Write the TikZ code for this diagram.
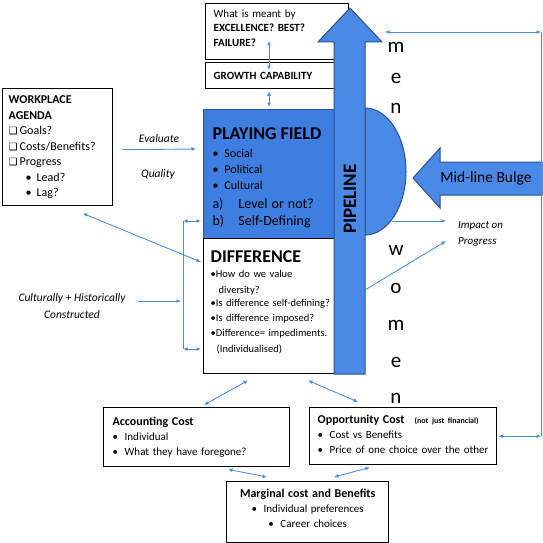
\documentclass[tikz,border=0pt]{standalone}
\usepackage{fontspec}
\setmainfont{Carlito}
\newfontfamily\symfont{DejaVu Sans}
\usetikzlibrary{arrows.meta}
\definecolor{fieldblue}{HTML}{3D7EE0}
\definecolor{pipeblue}{HTML}{4A89E5}
\definecolor{navy}{HTML}{2B5193}
\definecolor{linkblue}{HTML}{4A90E2}
\newcommand{\chk}{{\symfont\fontsize{10}{10}\selectfont ❑}\hspace{2pt}}
\newcommand{\bul}[1][12pt]{\makebox[#1][l]{\textbullet}}
\newcommand{\lift}[1]{\rule[-#1]{0pt}{0pt}}
\tikzset{
  box/.style={draw=black,line width=1.4pt,fill=white,anchor=north west,align=left,inner ysep=0pt},
  fieldbox/.style={box,draw=navy,line width=1pt,fill=fieldblue},
  blueshape/.style={draw=navy,line width=1pt,fill=pipeblue},
  link/.style={{Latex[length=4.5pt,width=4pt]}-{Latex[length=4.5pt,width=4pt]},draw=linkblue,line width=.9pt},
  push/.style={-{Latex[length=4.5pt,width=4pt]},draw=linkblue,line width=.9pt},
  wire/.style={draw=linkblue,line width=.9pt},
  note/.style={font=\fontsize{11.5}{17}\selectfont\itshape,align=center,inner sep=0pt},
  letter/.style={font=\fontsize{21}{21}\selectfont,inner sep=0pt}
}
\begin{document}
\begin{tikzpicture}[x=1pt,y=-1pt]
\useasboundingbox (0,0) rectangle (543,543);

% blue pipeline with its bulge and the incoming arrow
\draw[blueshape] (365,108) arc[start angle=-90,end angle=90,x radius=41,y radius=63.5] -- cycle;

\node[box,minimum width=143pt,minimum height=56pt,inner xsep=8pt,text width=127pt,font=\fontsize{11}{14.5}\selectfont] (excel) at (205,3) {What is meant by\\\textbf{EXCELLENCE? BEST?}\\\textbf{FAILURE?}\lift{8pt}};
\node[box,minimum width=140pt,minimum height=26pt,inner xsep=8pt,text width=124pt,font=\fontsize{11}{14}\selectfont\bfseries] (growth) at (205,62) {GROWTH CAPABILITY};

\node[fieldbox,minimum width=131pt,minimum height=129pt,inner xsep=9pt,text width=113pt,font=\fontsize{12}{16}\selectfont] (field) at (203,109) {\rule{0pt}{19pt}{\fontsize{18}{18}\selectfont\bfseries PLAYING FIELD}\\[2pt]
\bul Social\\\bul Political\\\bul Cultural\\[2.5pt]
{\fontsize{14}{16}\selectfont\makebox[26pt][l]{a)}Level or not?}\\[1pt]
{\fontsize{14}{16}\selectfont\makebox[26pt][l]{b)}Self-Defining}};

\node[box,minimum width=131pt,minimum height=135pt,inner xsep=7pt,text width=117pt,font=\fontsize{10.5}{15}\selectfont] (diff) at (203,238) {{\fontsize{18}{18}\selectfont\bfseries DIFFERENCE}\\
\textbullet How do we value\\[1pt]\hspace*{8pt}diversity?\\[-2pt]\mbox{\textbullet Is difference self-defining?}\\\textbullet Is difference imposed?\\\mbox{\textbullet Difference= impediments.}\\[1pt]\hspace*{6pt}(Individualised)\lift{10pt}};

\draw[blueshape] (334,374) -- (334,42) -- (318,42) -- (350,8) -- (382,42) -- (365,42) -- (365,374) -- cycle;
\node[rotate=90,font=\fontsize{19}{19}\selectfont\bfseries,inner sep=0pt] (pipe) at (350,199) {PIPELINE};

\draw[blueshape] (413,178) -- (440,148) -- (440,162) -- (542,162) -- (542,195) -- (440,195) -- (440,208) -- cycle;
\node[font=\fontsize{15.5}{15.5}\selectfont,inner sep=0pt] (bulge) at (486,178) {Mid-line Bulge};

% men / women down the right side of the pipeline
\foreach \ch/\yy [count=\i] in {m/47,e/78,n/108,w/250,o/288,m/325,e/362,n/398}
  \node[letter] (ltr\i) at (396,\yy) {\ch};

\node[box,minimum width=110pt,minimum height=117pt,inner xsep=6pt,text width=98pt,font=\fontsize{12}{15.5}\selectfont] (agenda) at (2,88) {\textbf{WORKPLACE}\\\textbf{AGENDA}\\\chk Goals?\\\chk Costs/Benefits?\\\chk Progress\\\hspace*{17pt}\bul[11pt]Lead?\\\hspace*{17pt}\bul[11pt]Lag?};

\node[box,minimum width=186pt,minimum height=59pt,inner xsep=9pt,text width=168pt,font=\fontsize{11}{15}\selectfont] (acct) at (103,407) {{\fontsize{12}{15}\selectfont\bfseries Accounting Cost}\\\bul Individual\\\bul What they have foregone?};
\node[box,minimum width=187pt,minimum height=57pt,inner xsep=8pt,text width=171pt,font=\fontsize{11}{15}\selectfont] (opp) at (309,407) {{\fontsize{12}{15}\selectfont\bfseries Opportunity Cost}\hspace{10pt}{\fontsize{8}{10}\selectfont\bfseries(not just financial)}\\\bul Cost vs Benefits\\\bul Price of one choice over the other\lift{4pt}};
\node[box,align=center,minimum width=162pt,minimum height=61pt,inner xsep=6pt,text width=150pt,font=\fontsize{11}{15}\selectfont] (marg) at (226,481) {{\fontsize{12}{15}\selectfont\bfseries Marginal cost and Benefits}\\\bul Individual preferences\\\bul Career choices\lift{7pt}};

% side labels
\node[note,anchor=base] (evaltxt) at (159,142) {Evaluate};
\node[note,anchor=base] (qualtxt) at (158,177) {Quality};
\node[note] (culttxt) at (72,306) {Culturally + Historically\\Constructed};
\node[note,align=left,font=\fontsize{11}{16}\selectfont\itshape,anchor=west] (impact) at (458,234) {Impact on\\Progress};

% connectors
\draw[push] ([shift={(9,2.5)}]agenda.east) -- ([shift={(-7,0)}]field.west |- 0,149);
\draw[link] ([shift={(25,7)}]agenda.south) -- ([shift={(-2,24)}]diff.north west);
\coordinate (brT) at (183,221);
\coordinate (brB) at (183,349);
\draw[wire] (brT) -- (brB);
\draw[link] (brT) -- ([xshift=-2pt]field.west |- brT);
\draw[link] (brB) -- ([xshift=-2pt]diff.west |- brB);
\draw[push] ([shift={(12,-5)}]culttxt.east) -- ([xshift=-2pt]brT |- 0,301);
\coordinate (gx) at (269,0);
\draw[link] (gx |- 0,41) -- ([yshift=-8pt]growth.north -| gx);
\draw[link] ([yshift=-2pt]growth.south -| gx) -- ([yshift=2pt]field.north -| gx);
\draw[push] (392,221) -- ([xshift=-12pt]impact.west |- 0,221);
\draw[push] (365,290) -- ([xshift=-12pt]impact.west |- 0,241);
\coordinate (loopT) at (541,32);
\coordinate (loopB) at (541,436);
\draw[link] (385,32) -- (loopT);
\draw[wire] (loopT) -- (loopB);
\draw[link] ([xshift=1pt]opp.east) -- (opp.east -| loopB);
\draw[link] ([shift={(45,6)}]diff.south west) -- ([shift={(101,-2)}]acct.north west);
\draw[link] ([shift={(105,6)}]diff.south west) -- ([shift={(49,-5)}]opp.north west);
\draw[link] ([shift={(125,2)}]acct.south west) -- ([shift={(41,-4)}]marg.north west);
\draw[link] ([shift={(61,2)}]opp.south west) -- ([shift={(108,-4)}]marg.north west);
\end{tikzpicture}
\end{document}
